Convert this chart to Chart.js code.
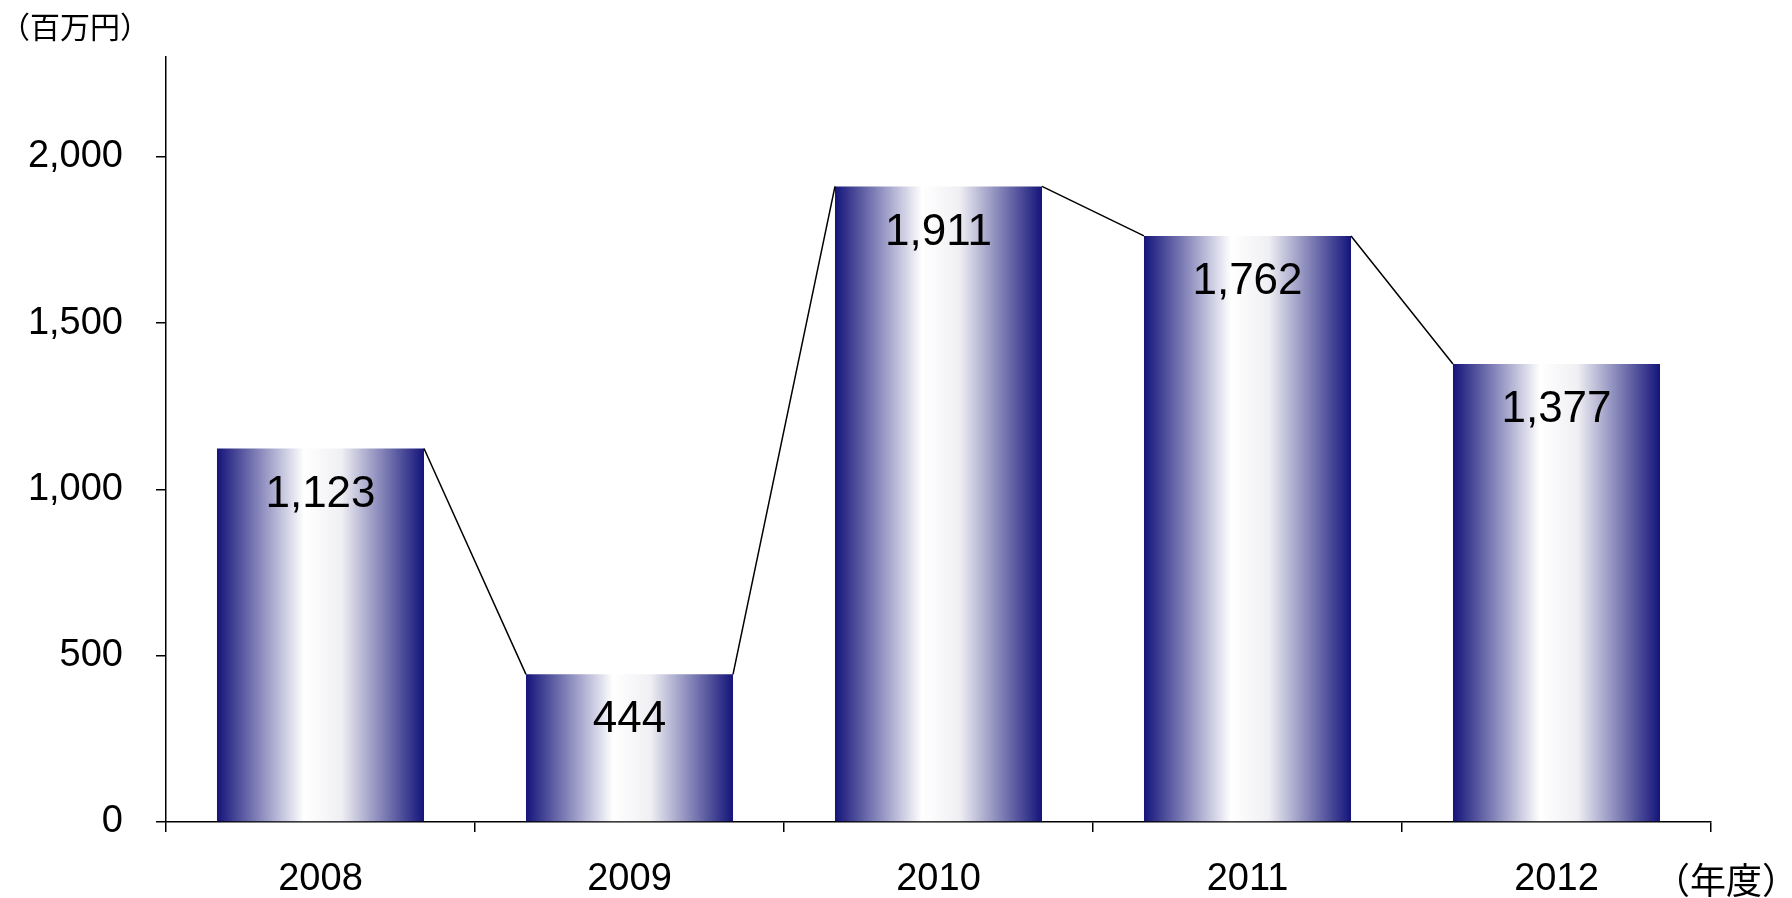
<!DOCTYPE html>
<html><head><meta charset="utf-8">
<script src="https://cdn.jsdelivr.net/npm/chart.js@4/dist/chart.umd.min.js"></script>
<style>html,body{margin:0;padding:0;background:#fff}#w{width:1792px;height:898px}</style>
</head><body><div id="w"><canvas id="c"></canvas></div>
<script>
const categories = ['2008','2009','2010','2011','2012'];
const values = [1123,444,1911,1762,1377];
const yTicks = [0,500,1000,1500,2000];
const unitLabel = '（百万円）';
const xUnitLabel = '（年度）';
const FONT = '"Liberation Sans", Arial, sans-serif';
const BAR_PCT = 0.67;

function barGradient(ctx){
  const chart = ctx.chart, xs = chart.scales && chart.scales.x;
  if(!xs || !chart.chartArea || !isFinite(xs.width) || xs.width<=0) return '#14147a';
  const cx = xs.getPixelForValue(ctx.dataIndex);
  const w = xs.width / categories.length * BAR_PCT;
  const g = chart.ctx.createLinearGradient(cx - w/2, 0, cx + w/2, 0);
  g.addColorStop(0, '#14147a');
  g.addColorStop(0.42, '#ffffff');
  g.addColorStop(0.6, '#f0f0f4');
  g.addColorStop(1, '#14147a');
  return g;
}

const deco = {
  id:'deco',
  afterDatasetsDraw(chart){
    const c = chart.ctx, meta = chart.getDatasetMeta(0);
    c.save();
    c.strokeStyle = '#000'; c.lineWidth = 1.5;
    c.beginPath();
    for(let i=0;i<meta.data.length-1;i++){
      const a = meta.data[i].getProps(['x','y','width'],true);
      const b = meta.data[i+1].getProps(['x','y','width'],true);
      c.moveTo(a.x + a.width/2, a.y);
      c.lineTo(b.x - b.width/2, b.y);
    }
    c.stroke();
    c.fillStyle = '#000';
    c.font = '44px ' + FONT;
    c.textAlign = 'center'; c.textBaseline = 'middle';
    meta.data.forEach((el,i)=>{
      const p = el.getProps(['x','y'],true);
      c.fillText(values[i].toLocaleString('en-US'), p.x, p.y + 46);
    });
    c.font = '30px "Noto Sans CJK JP", sans-serif';
    c.textAlign = 'left';
    c.fillText(unitLabel, 0, 27);
    c.font = '36px "Noto Sans CJK JP", sans-serif';
    c.fillText(xUnitLabel, 1654, 880);
    c.restore();
  }
};

new Chart(document.getElementById('c'), {
  type:'bar',
  data:{labels:categories, datasets:[{data:values, backgroundColor:barGradient, barPercentage:BAR_PCT, categoryPercentage:1}]},
  options:{
    responsive:true, maintainAspectRatio:false, animation:false,
    layout:{padding:{top:57, right:81, left:0, bottom:0}},
    plugins:{legend:{display:false}, tooltip:{enabled:false}},
    scales:{
      x:{
        afterFit(s){ s.height = 76; },
        grid:{display:true, drawOnChartArea:false, tickLength:10, color:'#000', lineWidth:1.5},
        border:{color:'#000', width:1.5},
        ticks:{color:'#000', font:{family:FONT, size:38}, padding:25}
      },
      y:{
        min:0, max:2300,
        afterBuildTicks(s){ s.ticks = yTicks.map(v=>({value:v})); },
        afterFit(s){ s.width = 166; },
        grid:{display:true, drawOnChartArea:false, tickLength:10, color:'#000', lineWidth:1.5},
        border:{color:'#000', width:1.5},
        ticks:{color:'#000', font:{family:FONT, size:38}, padding:33,
          callback:(v)=>Number(v).toLocaleString('en-US')}
      }
    }
  },
  plugins:[deco]
});
</script></body></html>
